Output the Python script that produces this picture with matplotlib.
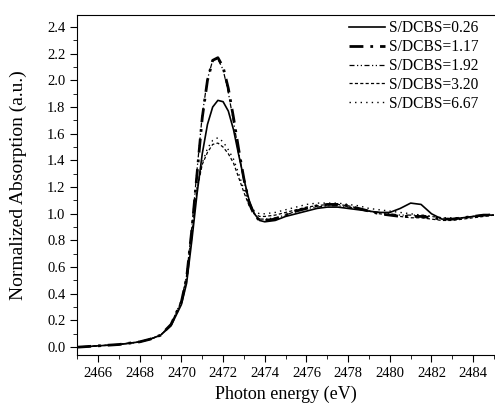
import numpy as np
import matplotlib
matplotlib.use("Agg")
import matplotlib.pyplot as plt
from matplotlib.ticker import MultipleLocator

plt.rcParams['font.family'] = ['Liberation Serif', 'DejaVu Serif']

# ===== data =====
energy = [2465, 2466, 2467, 2468, 2468.5, 2469, 2469.5, 2470, 2470.25, 2470.5,
          2470.75, 2471, 2471.25, 2471.5, 2471.75, 2472, 2472.25, 2472.5, 2472.75, 2473,
          2473.25, 2473.5, 2473.75, 2474, 2474.5, 2475, 2475.5, 2476, 2476.5, 2477,
          2477.5, 2478, 2478.5, 2479, 2479.5, 2480, 2480.5, 2481, 2481.5, 2482,
          2482.5, 2483, 2483.5, 2484, 2484.5, 2485]

s026 = [0.00, 0.01, 0.02, 0.04, 0.06, 0.09, 0.16, 0.32, 0.48, 0.80,
        1.15, 1.45, 1.67, 1.80, 1.85, 1.84, 1.77, 1.63, 1.44, 1.26,
        1.10, 1.00, 0.95, 0.94, 0.95, 0.98, 1.00, 1.02, 1.04, 1.05,
        1.05, 1.04, 1.03, 1.02, 1.01, 1.01, 1.04, 1.08, 1.07, 1.00,
        0.96, 0.96, 0.97, 0.98, 0.99, 0.99]

s117 = [0.00, 0.01, 0.02, 0.04, 0.06, 0.09, 0.17, 0.34, 0.52, 0.88,
        1.30, 1.72, 2.00, 2.15, 2.17, 2.10, 1.94, 1.72, 1.48, 1.26,
        1.08, 0.99, 0.95, 0.95, 0.96, 0.99, 1.02, 1.04, 1.06, 1.07,
        1.07, 1.06, 1.04, 1.02, 1.00, 0.99, 0.98, 0.98, 0.98, 0.97,
        0.96, 0.96, 0.97, 0.98, 0.99, 0.99]

s192 = [0.00, 0.01, 0.02, 0.04, 0.06, 0.09, 0.17, 0.35, 0.54, 0.90,
        1.33, 1.74, 2.01, 2.15, 2.16, 2.08, 1.91, 1.69, 1.46, 1.25,
        1.08, 1.00, 0.96, 0.96, 0.97, 0.99, 1.02, 1.04, 1.05, 1.06,
        1.06, 1.05, 1.04, 1.02, 1.01, 1.00, 0.99, 0.99, 0.99, 0.98,
        0.97, 0.96, 0.97, 0.98, 0.99, 0.99]

s320 = [0.00, 0.01, 0.02, 0.04, 0.06, 0.09, 0.17, 0.34, 0.52, 0.85,
        1.18, 1.37, 1.46, 1.52, 1.53, 1.50, 1.45, 1.38, 1.27, 1.16,
        1.06, 1.00, 0.98, 0.98, 0.99, 1.01, 1.03, 1.05, 1.06, 1.07,
        1.07, 1.06, 1.04, 1.02, 1.00, 0.99, 0.98, 0.97, 0.97, 0.96,
        0.95, 0.95, 0.96, 0.97, 0.98, 0.99]

s667 = [0.00, 0.01, 0.02, 0.04, 0.06, 0.09, 0.17, 0.34, 0.52, 0.86,
        1.20, 1.38, 1.49, 1.55, 1.57, 1.54, 1.48, 1.41, 1.30, 1.18,
        1.08, 1.02, 1.00, 1.00, 1.01, 1.03, 1.05, 1.07, 1.08, 1.08,
        1.08, 1.07, 1.06, 1.04, 1.03, 1.02, 1.01, 1.00, 0.99, 0.98,
        0.97, 0.97, 0.97, 0.98, 0.99, 1.00]

labels = ['S/DCBS=0.26', 'S/DCBS=1.17', 'S/DCBS=1.92', 'S/DCBS=3.20', 'S/DCBS=6.67']

fig = plt.figure(figsize=(4.95, 4.05), dpi=100)
ax = fig.add_axes([0.156, 0.123, 0.842, 0.84])

ax.plot(energy, s026, color='black', lw=1.2, ls='-', label=labels[0])
ax.plot(energy, s117, color='black', lw=2.0, ls=(0, (5, 2.5, 1, 2.5)), label=labels[1])
ax.plot(energy, s192, color='black', lw=0.9, ls=(0, (4, 2, 1, 2, 1, 2)), label=labels[2])
ax.plot(energy, s320, color='black', lw=0.9, ls=(0, (2.5, 1.8)), label=labels[3])
ax.plot(energy, s667, color='black', lw=1.0, ls=(0, (1, 3)), label=labels[4])

ax.set_xlim(2465, 2485)
ax.set_ylim(-0.06, 2.49)
ax.xaxis.set_major_locator(MultipleLocator(2))
ax.xaxis.set_minor_locator(MultipleLocator(1))
ax.yaxis.set_major_locator(MultipleLocator(0.2))
ax.yaxis.set_minor_locator(MultipleLocator(0.1))
ax.set_xticks(np.arange(2466, 2485, 2))
ax.tick_params(which='both', direction='out', top=False, right=False, labelsize=10.5)
ax.tick_params(which='major', length=5)
ax.tick_params(which='minor', length=3)
ax.spines['right'].set_visible(False)

ax.set_xlabel('Photon energy (eV)', fontsize=13)
ax.set_ylabel('Normalized Absorption (a.u.)', fontsize=14)
ax.yaxis.set_label_coords(-0.12, 0.5)

ax.legend(loc='upper right', bbox_to_anchor=(0.975, 1.0), frameon=False,
          fontsize=11.2, handlelength=2.3, labelspacing=0.18, handletextpad=0.25,
          borderaxespad=0.0, borderpad=0.35)

fig.savefig('out.png', dpi=100)
